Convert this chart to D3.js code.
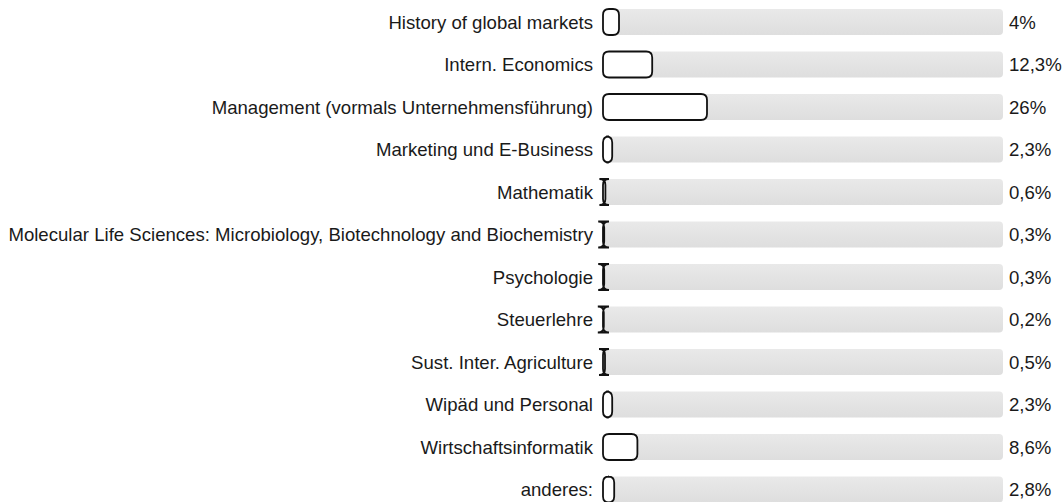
<!DOCTYPE html>
<html>
<head>
<meta charset="utf-8">
<script src="https://cdn.jsdelivr.net/npm/d3@7"></script>
<style>
  body { margin: 0; background: #fff; }
  text { font-family: "Liberation Sans", Arial, sans-serif; font-size: 18.6px; fill: #1a1a1a; }
</style>
</head>
<body>
<svg id="chart"></svg>
<script>
'use strict';

var categories = [
  'History of global markets',
  'Intern. Economics',
  'Management (vormals Unternehmensführung)',
  'Marketing und E-Business',
  'Mathematik',
  'Molecular Life Sciences: Microbiology, Biotechnology and Biochemistry',
  'Psychologie',
  'Steuerlehre',
  'Sust. Inter. Agriculture',
  'Wipäd und Personal',
  'Wirtschaftsinformatik',
  'anderes:'
]
var percents = [4, 12.3, 26, 2.3, 0.6, 0.3, 0.3, 0.2, 0.5, 2.3, 8.6, 2.8]

var width = 1064,
  height = 502,
  trackLeft = 603,
  trackRight = 1003,
  rowTop = 22,
  rowStep = 42.5,
  barH = 26,
  radius = 6

var svg = d3.select('#chart')
  .attr('width', width)
  .attr('height', height)

var xScale = d3.scaleLinear()
  .domain([0, 100])
  .range([trackLeft, trackRight])

var yScale = d3.scalePoint()
  .domain(categories)
  .range([rowTop, rowTop + rowStep * (categories.length - 1)])

var grad = svg.append('defs').append('linearGradient')
  .attr('id', 'track')
  .attr('x1', 0).attr('y1', 0).attr('x2', 0).attr('y2', 1)
grad.append('stop').attr('offset', '0%').attr('stop-color', '#e9e9e9')
grad.append('stop').attr('offset', '100%').attr('stop-color', '#dedede')

var rows = svg.selectAll('g.row')
  .data(categories)
  .enter().append('g')
  .attr('class', 'row')
  .attr('transform', function(d) {
    return 'translate(0,' + yScale(d) + ')'
  })

rows.append('rect')
  .attr('x', xScale(0))
  .attr('y', -barH / 2)
  .attr('width', xScale(100) - xScale(0))
  .attr('height', barH)
  .attr('rx', 4)
  .attr('fill', 'url(#track)')

// rounded outline, radii not clamped -> tiny values turn into an I-beam like the original
function barPath(w) {
  var x = xScale(0), y = -barH / 2, r = radius, h = barH
  return 'M' + (x + r) + ',' + y +
    'L' + (x + w - r) + ',' + y +
    'Q' + (x + w) + ',' + y + ' ' + (x + w) + ',' + (y + r) +
    'L' + (x + w) + ',' + (y + h - r) +
    'Q' + (x + w) + ',' + (y + h) + ' ' + (x + w - r) + ',' + (y + h) +
    'L' + (x + r) + ',' + (y + h) +
    'Q' + x + ',' + (y + h) + ' ' + x + ',' + (y + h - r) +
    'L' + x + ',' + (y + r) +
    'Q' + x + ',' + y + ' ' + (x + r) + ',' + y + 'Z'
}

rows.append('path')
  .attr('d', function(d, i) {
    return barPath(xScale(percents[i]) - xScale(0))
  })
  .attr('fill', '#fff')
  .attr('stroke', '#111')
  .attr('stroke-width', 1.8)

rows.append('text')
  .attr('x', trackLeft - 10)
  .attr('dy', '0.35em')
  .attr('text-anchor', 'end')
  .text(function(d) { return d })

rows.append('text')
  .attr('x', trackRight + 6)
  .attr('dy', '0.35em')
  .text(function(d, i) {
    return String(percents[i]).replace('.', ',') + '%'
  })
</script>
</body>
</html>
